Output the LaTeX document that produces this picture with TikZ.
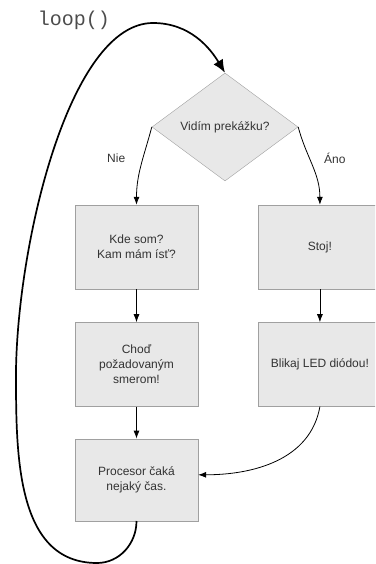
\documentclass[tikz,border=0pt]{standalone}
\usepackage{fontspec}
\setmainfont{Liberation Sans}
\setmonofont{Liberation Mono}
\usetikzlibrary{positioning,shapes.geometric,arrows.meta}
\definecolor{boxfill}{HTML}{E8E8E8}
\definecolor{boxline}{HTML}{A0A0A0}
\tikzset{node distance=33pt, auto}

\begin{document}
\begin{tikzpicture}[
  x=1pt, y=-1pt,
  box/.style={rectangle, draw=boxline, fill=boxfill, minimum width=123pt,
    minimum height=84pt, align=center, text=black!80,
    font=\fontsize{12}{15}\selectfont},
  decision/.style={diamond, draw=boxline, fill=boxfill, minimum width=146pt,
    minimum height=108pt, inner sep=0pt, text=black!80,
    font=\fontsize{12}{15}\selectfont},
  arr/.style={-{Latex[length=8pt,width=6pt]}, line width=0.8pt},
  looparr/.style={-{Latex[length=13pt,width=11pt]}, line width=1.7pt},
  lbl/.style={text=black!80, font=\fontsize{12}{15}\selectfont}
]
\useasboundingbox (0,0) rectangle (375,564);
\clip (0,0) rectangle (375,564);

\node (loopname) at (74,20) {\fontsize{20}{22}\selectfont\ttfamily\color{black!70}loop()};

\node[decision] (dec) at (225,127) {Vidím prekážku?};
\node[box] (kde) at (136.5,247) {Kde som?\\Kam mám ísť?};
\node[box, right=60pt of kde] (stoj) {Stoj!};
\node[box, below=of kde] (chod) {Choď\\požadovaným\\smerom!};
\node[box, below=of stoj] (blik) {Blikaj LED diódou!};
\node[box, below=32pt of chod, minimum height=82pt] (proc) {Procesor čaká\\nejaký čas.};

% vetvy
\draw[arr] (dec.west) to[out=-105,in=90]
  node[lbl, pos=0.4, left=14pt] {Nie} (kde.north);
\draw[arr] (dec.east) to[out=-75,in=90]
  node[lbl, pos=0.4, right=11pt] {Áno} (stoj.north);
\draw[arr] (kde) -- (chod);
\draw[arr] (chod) -- (proc);
\draw[arr] (stoj) -- (blik);
\draw[arr] (blik.south) to[out=-100,in=0] ([yshift=5pt]proc.east);

% slucka
\draw[looparr] (proc.south) to[out=-90,in=0] (97,563)
  to[out=180,in=-90] (16,370)
  .. controls (18,240) and (70,23) .. (153,23)
  .. controls (190,23) and (210,48) .. (dec.north);
\end{tikzpicture}
\end{document}
